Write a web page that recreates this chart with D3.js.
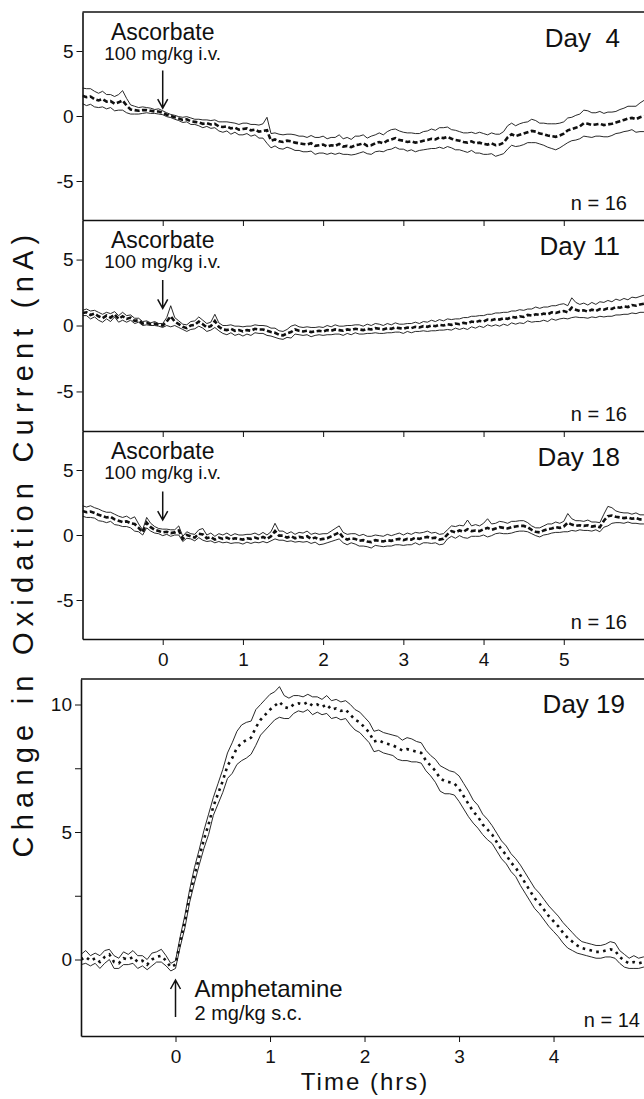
<!DOCTYPE html>
<html>
<head>
<meta charset="utf-8">
<script src="https://cdn.jsdelivr.net/npm/d3@7"></script>
<style>
  body { margin: 0; background: #fff; overflow: hidden; }
  svg { display: block; font-family: "Liberation Sans", Arial, Helvetica, sans-serif; }
</style>
</head>
<body>
<svg id="chart" width="644" height="1099"></svg>
<script>
// one reading every 3 min (0.05 h), starting 1 h before injection
const step = 0.05;
const startHour = -1;

const dayLabels = ["Day  4", "Day 11", "Day 18", "Day 19"];
const nLabels = ["n = 16", "n = 16", "n = 16", "n = 14"];
const topXTicks = [0, 1, 2, 3, 4, 5];
const topYTicks = [-5, 0, 5];
const bottomXTicks = [0, 1, 2, 3, 4];
const bottomYTicks = [0, 2.5, 5, 7.5, 10];
const bottomYLabels = [0, 5, 10];
// ascorbate arrow: [start, tip] in nA
const ascorbateArrows = [[3.5, 0.6], [3.45, 1.3], [3.35, 1.15]];

// mean change in oxidation current (nA)
const day4Mean = [
  1.55, 1.45, 1.50, 1.30, 1.20,
  1.30, 1.10, 1.15, 0.95, 1.05,
  1.20, 0.80, 0.50, 0.45, 0.40,
  0.45, 0.45, 0.40, 0.35, 0.35,
  0.25, 0.10, 0.00, -0.10, -0.20,
  -0.30, -0.25, -0.40, -0.45, -0.50,
  -0.60, -0.55, -0.65, -0.60, -0.80,
  -0.85, -0.80, -0.95, -0.90, -1.05,
  -1.00, -0.95, -1.10, -1.05, -1.20,
  -1.15, -1.10, -1.90, -1.80, -1.95,
  -2.00, -1.90, -1.95, -2.05, -2.10,
  -2.15, -2.20, -2.10, -2.30, -2.25,
  -2.20, -2.35, -2.25, -2.30, -2.15,
  -2.35, -2.30, -2.40, -2.25, -2.20,
  -2.10, -2.30, -2.25, -2.10, -2.00,
  -2.10, -1.90, -1.80, -1.70, -1.85,
  -1.90, -2.00, -1.95, -2.05, -2.00,
  -1.90, -1.85, -1.75, -1.80, -1.65,
  -1.70, -1.60, -1.75, -1.85, -1.90,
  -2.00, -2.05, -1.95, -2.10, -2.05,
  -2.15, -2.20, -2.10, -2.25, -2.20,
  -2.05, -1.65, -1.40, -1.55, -1.45,
  -1.35, -1.25, -1.15, -1.20, -1.35,
  -1.40, -1.50, -1.55, -1.60, -1.50,
  -1.35, -1.10, -1.00, -0.90, -0.80,
  -0.55, -0.60, -0.70, -0.65, -0.60,
  -0.70, -0.65, -0.60, -0.50, -0.40,
  -0.30, -0.20, -0.15, -0.25, -0.10,
  0.00
];
const day4Sem = [
  0.60, 0.65, 0.60, 0.60, 0.55,
  0.60, 0.55, 0.50, 0.55, 0.60,
  0.75, 0.55, 0.35, 0.30, 0.25,
  0.25, 0.20, 0.20, 0.15, 0.20,
  0.15, 0.15, 0.12, 0.15, 0.15,
  0.20, 0.20, 0.25, 0.20, 0.25,
  0.30, 0.25, 0.30, 0.30, 0.35,
  0.40, 0.35, 0.45, 0.35, 0.40,
  0.45, 0.40, 0.45, 0.40, 0.50,
  0.55, 1.00, 0.55, 0.50, 0.55,
  0.55, 0.50, 0.55, 0.60, 0.55,
  0.60, 0.55, 0.60, 0.65, 0.60,
  0.65, 0.60, 0.60, 0.65, 0.70,
  0.60, 0.65, 0.60, 0.70, 0.65,
  0.65, 0.60, 0.70, 0.65, 0.70,
  0.65, 0.70, 0.75, 0.70, 0.70,
  0.65, 0.70, 0.65, 0.70, 0.65,
  0.70, 0.70, 0.75, 0.70, 0.75,
  0.80, 0.75, 0.70, 0.75, 0.70,
  0.70, 0.75, 0.70, 0.75, 0.80,
  0.80, 0.75, 0.80, 0.85, 0.80,
  0.85, 0.90, 0.85, 0.80, 0.85,
  0.85, 0.80, 0.90, 0.85, 0.80,
  0.85, 0.90, 0.95, 1.00, 0.95,
  0.90, 0.95, 0.90, 0.95, 0.95,
  1.00, 1.00, 0.95, 0.90, 0.95,
  0.90, 0.95, 0.90, 0.85, 0.90,
  0.90, 0.95, 0.90, 1.00, 1.10,
  1.20
];

const day11Mean = [
  0.95, 1.00, 0.80, 0.90, 0.70,
  0.55, 0.75, 0.60, 0.85, 0.50,
  0.70, 0.50, 0.60, 0.35, 0.40,
  0.15, 0.20, 0.10, 0.15, 0.05,
  0.00, 0.30, 0.70, 0.30, 0.10,
  -0.10, -0.20, 0.00, 0.05, 0.30,
  0.10, -0.15, -0.05, 0.35, -0.10,
  -0.30, -0.35, -0.25, -0.40, -0.35,
  -0.45, -0.35, -0.40, -0.25, -0.30,
  -0.30, -0.40, -0.50, -0.55, -0.70,
  -0.75, -0.60, -0.50, -0.30, -0.40,
  -0.45, -0.40, -0.50, -0.45, -0.40,
  -0.45, -0.35, -0.40, -0.30, -0.35,
  -0.40, -0.30, -0.35, -0.25, -0.30,
  -0.35, -0.25, -0.30, -0.20, -0.25,
  -0.30, -0.20, -0.25, -0.15, -0.20,
  -0.25, -0.15, -0.20, -0.10, -0.15,
  -0.05, -0.10, 0.00, -0.05, 0.05,
  0.00, 0.10, 0.05, 0.15, 0.10,
  0.20, 0.15, 0.30, 0.25, 0.35,
  0.30, 0.45, 0.40, 0.50, 0.45,
  0.55, 0.50, 0.65, 0.60, 0.70,
  0.65, 0.80, 0.75, 0.85, 0.80,
  0.90, 0.85, 1.00, 0.95, 1.05,
  1.10, 1.00, 1.35, 1.20, 1.10,
  1.15, 1.05, 1.20, 1.10, 1.25,
  1.20, 1.30, 1.25, 1.40, 1.35,
  1.45, 1.40, 1.55, 1.50, 1.60,
  1.65
];
const day11Sem = [
  0.20, 0.25, 0.30, 0.25, 0.30,
  0.30, 0.25, 0.30, 0.20, 0.25,
  0.30, 0.25, 0.20, 0.20, 0.15,
  0.15, 0.15, 0.10, 0.15, 0.10,
  0.15, 0.30, 0.80, 0.30, 0.25,
  0.20, 0.25, 0.30, 0.30, 0.35,
  0.30, 0.30, 0.30, 0.50, 0.30,
  0.30, 0.35, 0.30, 0.35, 0.30,
  0.35, 0.30, 0.35, 0.30, 0.30,
  0.30, 0.35, 0.30, 0.35, 0.30,
  0.30, 0.30, 0.45, 0.35, 0.30,
  0.30, 0.30, 0.35, 0.30, 0.30,
  0.30, 0.35, 0.30, 0.35, 0.30,
  0.35, 0.30, 0.35, 0.30, 0.35,
  0.30, 0.35, 0.30, 0.35, 0.35,
  0.30, 0.35, 0.30, 0.35, 0.30,
  0.35, 0.30, 0.35, 0.35, 0.30,
  0.35, 0.35, 0.40, 0.35, 0.40,
  0.35, 0.40, 0.40, 0.35, 0.40,
  0.40, 0.45, 0.40, 0.45, 0.40,
  0.45, 0.40, 0.45, 0.45, 0.50,
  0.45, 0.50, 0.45, 0.50, 0.50,
  0.50, 0.45, 0.50, 0.55, 0.50,
  0.50, 0.55, 0.50, 0.55, 0.55,
  0.55, 0.50, 0.75, 0.55, 0.50,
  0.55, 0.50, 0.55, 0.50, 0.55,
  0.55, 0.60, 0.55, 0.60, 0.55,
  0.60, 0.55, 0.60, 0.60, 0.60,
  0.65
];

const day18Mean = [
  1.85, 1.75, 1.80, 1.70, 1.55,
  1.45, 1.35, 1.40, 1.20, 1.10,
  1.00, 1.05, 0.90, 0.85, 0.55,
  0.20, 0.95, 0.60, 0.40, 0.30,
  0.20, 0.25, 0.15, 0.20, 0.35,
  -0.30, 0.00, -0.10, -0.20, 0.10,
  0.05, -0.25, -0.15, -0.35, -0.20,
  -0.30, -0.20, -0.35, -0.25, -0.30,
  -0.35, -0.25, -0.30, -0.20, -0.30,
  -0.15, -0.30, -0.10, 0.30, -0.05,
  -0.05, -0.20, -0.10, -0.25, -0.15,
  -0.20, -0.10, -0.30, -0.20, -0.35,
  -0.30, -0.25, -0.10, 0.05, 0.20,
  -0.20, -0.35, -0.25, -0.30, -0.45,
  -0.40, -0.50, -0.55, -0.40, -0.45,
  -0.50, -0.40, -0.45, -0.35, -0.30,
  -0.40, -0.30, -0.35, -0.20, -0.30,
  -0.20, -0.15, -0.25, -0.20, -0.35,
  -0.30, 0.05, 0.30, 0.20, 0.35,
  0.25, 0.45, 0.30, 0.35, 0.30,
  0.45, 0.55, 0.40, 0.50, 0.60,
  0.55, 0.50, 0.60, 0.65, 0.70,
  0.70, 0.60, 0.40, 0.25, 0.20,
  0.35, 0.45, 0.50, 0.60, 0.55,
  0.65, 0.95, 0.80, 0.70, 0.75,
  0.70, 0.75, 0.65, 0.70, 0.60,
  1.10, 1.45, 1.50, 1.40, 1.35,
  1.30, 1.35, 1.25, 1.30, 1.20,
  1.20
];
const day18Sem = [
  0.40, 0.40, 0.45, 0.40, 0.45,
  0.40, 0.40, 0.35, 0.40, 0.35,
  0.35, 0.40, 0.35, 0.55, 0.30,
  0.20, 0.40, 0.30, 0.25, 0.20,
  0.25, 0.20, 0.25, 0.20, 0.35,
  0.20, 0.25, 0.20, 0.25, 0.30,
  0.45, 0.25, 0.30, 0.25, 0.30,
  0.30, 0.35, 0.30, 0.35, 0.30,
  0.35, 0.30, 0.35, 0.35, 0.30,
  0.35, 0.30, 0.35, 0.60, 0.35,
  0.35, 0.30, 0.35, 0.30, 0.35,
  0.35, 0.40, 0.35, 0.35, 0.40,
  0.40, 0.35, 0.40, 0.45, 0.50,
  0.40, 0.40, 0.35, 0.40, 0.40,
  0.45, 0.40, 0.45, 0.40, 0.40,
  0.40, 0.45, 0.40, 0.40, 0.45,
  0.40, 0.45, 0.40, 0.40, 0.45,
  0.40, 0.45, 0.40, 0.40, 0.40,
  0.40, 0.35, 0.40, 0.45, 0.40,
  0.45, 0.70, 0.40, 0.45, 0.40,
  0.45, 0.70, 0.45, 0.40, 0.45,
  0.45, 0.40, 0.45, 0.40, 0.40,
  0.40, 0.35, 0.30, 0.30, 0.35,
  0.35, 0.40, 0.35, 0.40, 0.35,
  0.40, 0.70, 0.45, 0.40, 0.35,
  0.35, 0.40, 0.35, 0.30, 0.35,
  0.50, 0.75, 0.60, 0.45, 0.40,
  0.40, 0.35, 0.35, 0.40, 0.35,
  0.35
];

const day19Mean = [
  0.00, 0.10, -0.05, 0.05, -0.10,
  0.10, 0.20, -0.10, -0.15, 0.05,
  0.00, 0.10, -0.10, -0.05, -0.20,
  0.00, 0.10, 0.15, -0.05, -0.30,
  -0.20, 0.70, 1.50, 2.50, 3.30,
  4.00, 4.70, 5.30, 6.00, 6.50,
  7.00, 7.60, 7.90, 8.30, 8.50,
  8.60, 8.70, 9.10, 9.40, 9.60,
  9.80, 9.95, 10.10, 9.90, 9.85,
  10.00, 10.05, 10.00, 10.10, 9.95,
  10.00, 9.90, 10.00, 9.80, 9.85,
  9.75, 9.80, 9.60, 9.40, 9.30,
  9.10, 8.90, 8.55, 8.60, 8.50,
  8.45, 8.40, 8.30, 8.20, 8.25,
  8.20, 8.15, 8.10, 7.80, 7.60,
  7.40, 7.10, 7.00, 6.95, 6.90,
  6.70, 6.40, 6.10, 5.80, 5.60,
  5.30, 5.10, 4.90, 4.60, 4.30,
  4.10, 3.80, 3.60, 3.30, 3.00,
  2.70, 2.40, 2.20, 1.95, 1.70,
  1.50, 1.30, 1.05, 0.85, 0.70,
  0.55, 0.45, 0.40, 0.35, 0.30,
  0.30, 0.35, 0.40, 0.35, 0.10,
  -0.05, -0.15, -0.10, -0.15, -0.10,
  -0.10
];
const day19Sem = [
  0.20, 0.25, 0.20, 0.20, 0.25,
  0.25, 0.20, 0.25, 0.20, 0.25,
  0.20, 0.25, 0.25, 0.20, 0.20,
  0.25, 0.20, 0.25, 0.20, 0.15,
  0.15, 0.20, 0.25, 0.25, 0.30,
  0.30, 0.35, 0.40, 0.35, 0.40,
  0.45, 0.50, 0.60, 0.65, 0.70,
  0.70, 0.65, 0.70, 0.60, 0.60,
  0.60, 0.55, 0.60, 0.45, 0.40,
  0.35, 0.30, 0.30, 0.30, 0.35,
  0.30, 0.30, 0.35, 0.35, 0.35,
  0.35, 0.35, 0.40, 0.40, 0.40,
  0.40, 0.40, 0.40, 0.40, 0.40,
  0.40, 0.40, 0.45, 0.40, 0.45,
  0.45, 0.40, 0.40, 0.40, 0.40,
  0.45, 0.50, 0.50, 0.45, 0.45,
  0.50, 0.50, 0.50, 0.45, 0.45,
  0.40, 0.40, 0.35, 0.35, 0.35,
  0.35, 0.35, 0.35, 0.40, 0.40,
  0.40, 0.40, 0.40, 0.40, 0.40,
  0.40, 0.40, 0.40, 0.40, 0.35,
  0.30, 0.25, 0.25, 0.25, 0.25,
  0.25, 0.25, 0.30, 0.30, 0.25,
  0.25, 0.20, 0.25, 0.20, 0.20,
  0.20
];

const svg = d3.select("#chart");
const ink = "#111";

function toPoints(mean, sem) {
  return mean.map((m, i) => ({ t: startHour + i * step, m: m, s: sem[i] }));
}

function drawTrace(g, pts, x, y, dash, clipId) {
  const body = g.append("g").attr("clip-path", `url(#${clipId})`);
  const upper = d3.line().x(d => x(d.t)).y(d => y(d.m + d.s));
  const lower = d3.line().x(d => x(d.t)).y(d => y(d.m - d.s));
  const mid = d3.line().x(d => x(d.t)).y(d => y(d.m));
  [upper, lower].forEach(l => {
    body.append("path").datum(pts).attr("d", l)
      .attr("fill", "none").attr("stroke", ink).attr("stroke-width", 0.9);
  });
  body.append("path").datum(pts).attr("d", mid)
    .attr("fill", "none").attr("stroke", ink).attr("stroke-width", 2.6)
    .attr("stroke-dasharray", dash);
}

function styleAxis(a) {
  a.select(".domain").attr("stroke", ink).attr("stroke-width", 1.6);
  a.selectAll(".tick line").attr("stroke", ink).attr("stroke-width", 1);
  a.selectAll(".tick text").attr("fill", ink)
    .style("font-family", "'Liberation Sans', Arial, sans-serif").style("font-size", "19px");
}

// ---- three ascorbate panels sharing one time axis ----
const topPanels = [
  { mean: day4Mean, sem: day4Sem, top: 12, bottom: 220 },
  { mean: day11Mean, sem: day11Sem, top: 220, bottom: 431 },
  { mean: day18Mean, sem: day18Sem, top: 431, bottom: 639 }
];
// plot area runs a little past the right edge of the page, as in the original
const xTop = d3.scaleLinear().domain([-1, 6.1]).range([82.5, 652]);
const defs = svg.append("defs");

topPanels.forEach((p, k) => {
  const y = d3.scaleLinear().domain([-8, 8]).range([p.bottom, p.top]);
  const g = svg.append("g");
  const clipId = "clip" + k;
  defs.append("clipPath").attr("id", clipId).append("rect")
    .attr("x", xTop.range()[0]).attr("y", p.top)
    .attr("width", xTop.range()[1] - xTop.range()[0]).attr("height", p.bottom - p.top);

  drawTrace(g, toPoints(p.mean, p.sem), xTop, y, "5,2.5", clipId);

  const ya = g.append("g").attr("transform", `translate(${xTop.range()[0]},0)`)
    .call(d3.axisLeft(y).tickValues(topYTicks).tickSize(6).tickSizeOuter(0)
      .tickPadding(3).tickFormat(d => String(d)));
  styleAxis(ya);

  const xa = g.append("g").attr("transform", `translate(0,${p.bottom})`)
    .call(d3.axisBottom(xTop).tickValues(topXTicks).tickSize(6).tickSizeOuter(0)
      .tickPadding(8).tickFormat(d => k === 2 ? String(d) : ""));
  styleAxis(xa);

  if (k === 0) {
    g.append("line").attr("x1", xTop.range()[0]).attr("x2", xTop.range()[1])
      .attr("y1", p.top).attr("y2", p.top).attr("stroke", ink).attr("stroke-width", 1.6);
  }

  g.append("text").attr("x", 620).attr("y", p.top + 35)
    .attr("text-anchor", "end").style("font-size", "26px").style("white-space", "pre")
    .attr("fill", ink).text(dayLabels[k]);
  g.append("text").attr("x", 627).attr("y", p.bottom - 10)
    .attr("text-anchor", "end").style("font-size", "20px")
    .attr("fill", ink).text(nLabels[k]);

  const ax = xTop(0);
  g.append("text").attr("x", ax).attr("y", p.top + 28).attr("text-anchor", "middle")
    .style("font-size", "23px").attr("fill", ink).text("Ascorbate");
  g.append("text").attr("x", ax).attr("y", p.top + 48).attr("text-anchor", "middle")
    .style("font-size", "19px").attr("fill", ink).text("100 mg/kg i.v.");
  const [a0, a1] = ascorbateArrows[k];
  const y0 = y(a0), y1 = y(a1);
  g.append("path")
    .attr("d", `M${ax},${y0}V${y1}M${ax - 5},${y1 - 9}L${ax},${y1}L${ax + 5},${y1 - 9}`)
    .attr("fill", "none").attr("stroke", ink).attr("stroke-width", 1.5);
});

// ---- amphetamine panel ----
const xBot = d3.scaleLinear().domain([-1, 5.1]).range([81, 657.5]);
const yBot = d3.scaleLinear().domain([-3, 11]).range([1036, 679]);
const gb = svg.append("g");
defs.append("clipPath").attr("id", "clip3").append("rect")
  .attr("x", 81).attr("y", 679).attr("width", 577).attr("height", 357);
drawTrace(gb, toPoints(day19Mean, day19Sem), xBot, yBot, "2.6,4.4", "clip3");

const yb = gb.append("g").attr("transform", `translate(${xBot.range()[0]},0)`)
  .call(d3.axisLeft(yBot).tickValues(bottomYTicks).tickSize(6).tickSizeOuter(0)
    .tickPadding(3).tickFormat(d => bottomYLabels.includes(d) ? String(d) : ""));
styleAxis(yb);
const xb = gb.append("g").attr("transform", `translate(0,${yBot.range()[0]})`)
  .call(d3.axisBottom(xBot).tickValues(bottomXTicks).tickSize(6).tickSizeOuter(0)
    .tickPadding(8).tickFormat(d => String(d)));
styleAxis(xb);
gb.append("line").attr("x1", xBot.range()[0]).attr("x2", xBot.range()[1])
  .attr("y1", yBot.range()[1]).attr("y2", yBot.range()[1])
  .attr("stroke", ink).attr("stroke-width", 1.6);

gb.append("text").attr("x", 625).attr("y", 713).attr("text-anchor", "end")
  .style("font-size", "26px").attr("fill", ink).text(dayLabels[3]);
gb.append("text").attr("x", 640).attr("y", 1027).attr("text-anchor", "end")
  .style("font-size", "20px").attr("fill", ink).text(nLabels[3]);

const bx = xBot(0);
gb.append("path")
  .attr("d", `M${bx},1017V980M${bx - 5},989L${bx},980L${bx + 5},989`)
  .attr("fill", "none").attr("stroke", ink).attr("stroke-width", 1.5);
gb.append("text").attr("x", bx + 19).attr("y", 997)
  .style("font-size", "24px").attr("fill", ink).text("Amphetamine");
gb.append("text").attr("x", bx + 19).attr("y", 1020)
  .style("font-size", "20px").attr("fill", ink).text("2 mg/kg s.c.");

// ---- axis titles ----
svg.append("text").attr("transform", "translate(33,543) rotate(-90)")
  .attr("text-anchor", "middle").style("font-size", "29px").style("letter-spacing", "6.2px")
  .attr("fill", ink).text("Change in Oxidation Current (nA)");
svg.append("text").attr("x", 365).attr("y", 1090).attr("text-anchor", "middle")
  .style("font-size", "24px").style("letter-spacing", "2px")
  .attr("fill", ink).text("Time (hrs)");
</script>
</body>
</html>
